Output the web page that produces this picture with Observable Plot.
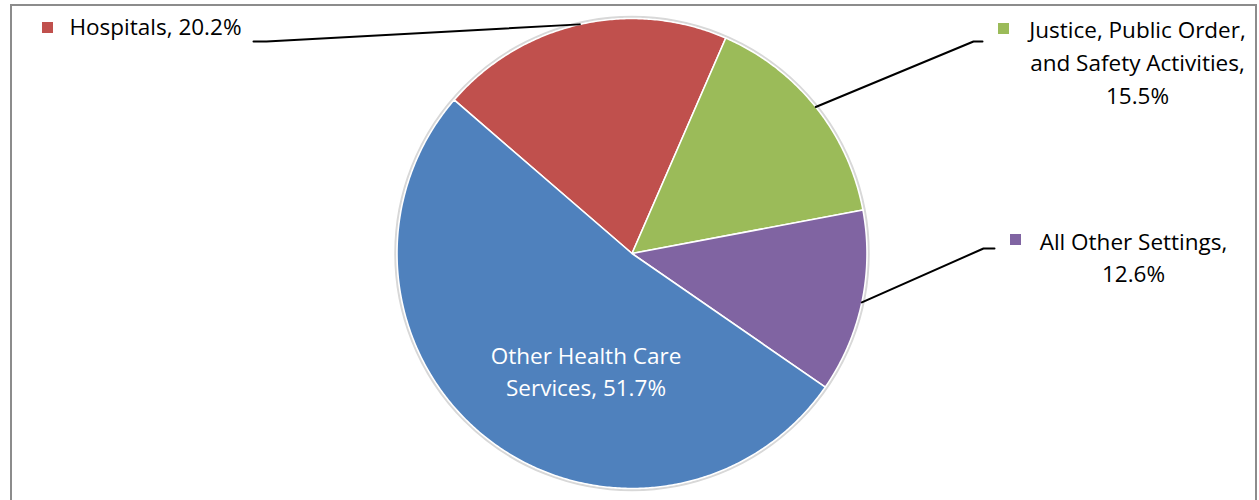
<!DOCTYPE html>
<html><head><meta charset="utf-8">
<script src="https://cdn.jsdelivr.net/npm/d3@7"></script>
<script src="https://cdn.jsdelivr.net/npm/@observablehq/plot@0.6"></script>
<style>
html,body{margin:0;padding:0;background:#fff;overflow:hidden;width:1259px;height:500px}
#wrap{position:relative;width:1259px;height:500px}
#frame{position:absolute;left:10px;top:4px;width:1247px;height:600px;border:2px solid #8c8c8c;box-sizing:border-box;pointer-events:none}
#chart{position:absolute;left:0;top:0}
</style></head><body>
<div id="wrap"><div id="chart"></div><div id="frame"></div></div>
<script>
// ---- data ----
const categories = ["Hospitals", "Justice, Public Order, and Safety Activities", "All Other Settings", "Other Health Care Services"];
const shares = [20.2, 15.5, 12.6, 51.7];
const labelTexts = ["Hospitals, 20.2%", "Justice, Public Order,\nand Safety Activities,\n15.5%", "All Other Settings,\n12.6%", "Other Health Care\nServices, 51.7%"];
const colors = ["#C0504D", "#9BBB59", "#8064A2", "#4F81BD"];

// ---- layout (pixels) ----
const W = 1259, H = 500, cx = 631.5, cy = 253, R = 235;
const X = px => (px - cx) / R, Y = py => (cy - py) / R;
const startDeg = -49.2;
// label anchor, key square, leader bend & end per category (pixel layout)
const layout = [
  {label: [69, 24], anchor: "start", key: [47, 27], bend: [266, 41], end: [253, 41], fill: "#000"},
  {label: [1137, 60], anchor: "middle", key: [1003, 28], bend: [973, 41], end: [982, 41], fill: "#000"},
  {label: [1133, 255], anchor: "middle", key: [1015, 239], bend: [983, 248], end: [994, 248], fill: "#000"},
  {label: [585.5, 369], anchor: "middle", key: null, bend: null, end: null, fill: "#fff"}
];

const arcs = d3.pie().sort(null).value(d => d.v)
  .startAngle(startDeg * Math.PI / 180).endAngle(startDeg * Math.PI / 180 + 2 * Math.PI)(
    categories.map((c, i) => ({cat: c, v: shares[i]})));

const slicePts = [];
arcs.forEach(a => {
  const cat = a.data.cat;
  slicePts.push({cat, x: 0, y: 0});
  const n = Math.ceil((a.endAngle - a.startAngle) / (Math.PI / 360));
  for (let k = 0; k <= n; k++) {
    const t = a.startAngle + (a.endAngle - a.startAngle) * k / n;
    slicePts.push({cat, x: Math.sin(t), y: Math.cos(t)});
  }
  slicePts.push({cat, x: 0, y: 0});
});

const leaderPts = [];
arcs.forEach((a, i) => {
  const L = layout[i];
  if (!L.bend) return;
  const m = (a.startAngle + a.endAngle) / 2;
  const cat = a.data.cat;
  leaderPts.push({cat, x: Math.sin(m), y: Math.cos(m)});
  leaderPts.push({cat, x: X(L.bend[0]), y: Y(L.bend[1])});
  leaderPts.push({cat, x: X(L.end[0]), y: Y(L.end[1])});
});

const keys = categories.map((c, i) => ({cat: c, L: layout[i]})).filter(d => d.L.key)
  .map(d => ({cat: d.cat, x: X(d.L.key[0]), y: Y(d.L.key[1])}));
const labels = categories.map((c, i) => ({cat: c, text: labelTexts[i], x: X(layout[i].label[0]), y: Y(layout[i].label[1]), anchor: layout[i].anchor, fill: layout[i].fill}));

const textOpts = {x: "x", y: "y", text: "text", lineAnchor: "middle", lineHeight: 1.45, fontSize: 22.5, fontFamily: "Open Sans", fill: d => d.fill};

const chart = Plot.plot({
  width: W, height: H, margin: 0,
  x: {domain: [X(0), X(W)], axis: null},
  y: {domain: [Y(H), Y(0)], axis: null},
  color: {domain: categories, range: colors},
  style: {background: "transparent", fontFamily: "Open Sans"},
  marks: [
    Plot.dot([0], {x: d => d, y: d => d, r: R + 1.5, stroke: "#d8d8d8", strokeWidth: 2.5, fill: "none"}),
    Plot.line(slicePts, {x: "x", y: "y", z: "cat", fill: "cat", stroke: "white", strokeWidth: 1.6, strokeLinejoin: "round"}),
    Plot.line(leaderPts, {x: "x", y: "y", z: "cat", stroke: "black", strokeWidth: 2}),
    Plot.dot(keys, {x: "x", y: "y", symbol: "square", r: 6.2, fill: "cat"}),
    Plot.text(labels.filter(d => d.anchor === "start"), {...textOpts, textAnchor: "start"}),
    Plot.text(labels.filter(d => d.anchor === "middle"), {...textOpts, textAnchor: "middle"})
  ]
});
document.getElementById("chart").appendChild(chart);
</script>
</body></html>
